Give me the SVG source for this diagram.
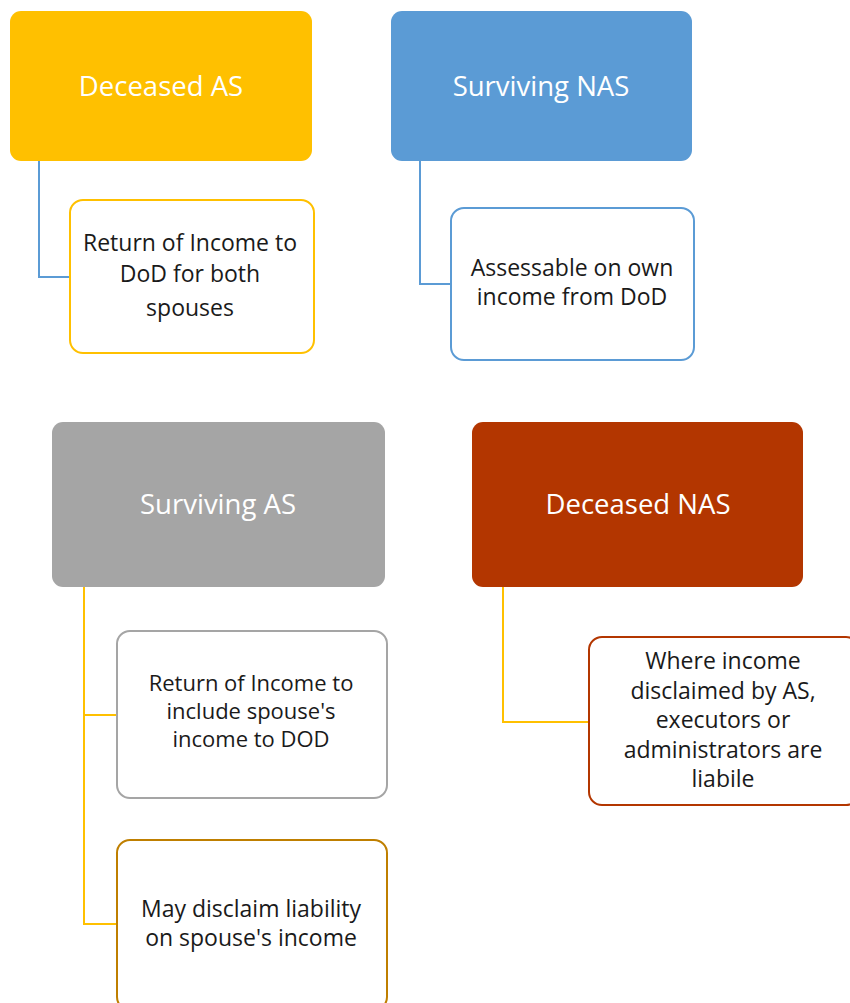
<svg xmlns="http://www.w3.org/2000/svg" width="850" height="1003" viewBox="0 0 850 1003">
<style>
.head text{font-family:"Open Sans","Liberation Sans",sans-serif;font-size:27.5px;fill:#fff;text-anchor:middle}
.child rect{fill:#fff;stroke-width:2}
.child text{font-family:"Open Sans","Liberation Sans",sans-serif;font-size:23px;fill:#1a1a1a;text-anchor:middle}
.child text.tight{font-size:22px}
.conn path{fill:none;stroke-width:2}
</style>
<rect width="850" height="1003" fill="#fff"/>
<g class="conn">
<path d="M39 161V277H70" stroke="#5B9BD5"/>
<path d="M420 161V284H451" stroke="#5B9BD5"/>
<path d="M84 587V924H117M84 715H117" stroke="#FFC000"/>
<path d="M503 587V722H589" stroke="#FFC000"/>
</g>
<g id="deceased-as" class="head"><rect x="10" y="11" width="302" height="150" rx="11" fill="#FFC000"/><text x="161" y="96">Deceased AS</text></g>
<g id="surviving-nas" class="head"><rect x="391" y="11" width="301" height="150" rx="11" fill="#5B9BD5"/><text x="541" y="96">Surviving NAS</text></g>
<g id="surviving-as" class="head"><rect x="52" y="422" width="333" height="165" rx="11" fill="#A5A5A5"/><text x="218" y="514">Surviving AS</text></g>
<g id="deceased-nas" class="head"><rect x="472" y="422" width="331" height="165" rx="11" fill="#B33600"/><text x="638" y="514">Deceased NAS</text></g>
<g id="return-both" class="child"><rect x="70" y="200" width="244" height="153" rx="13" stroke="#FFC000"/><text x="190" y="251">Return of Income to</text><text x="190" y="282">DoD for both</text><text x="190" y="316">spouses</text></g>
<g id="assessable" class="child"><rect x="451" y="208" width="243" height="152" rx="13" stroke="#5B9BD5"/><text x="572" y="276">Assessable on own</text><text x="572" y="305">income from DoD</text></g>
<g id="return-include" class="child"><rect x="117" y="631" width="270" height="167" rx="13" stroke="#A5A5A5"/><text class="tight" x="251" y="691">Return of Income to</text><text class="tight" x="251" y="719">include spouse's</text><text class="tight" x="251" y="747">income to DOD</text></g>
<g id="disclaim" class="child"><rect x="117" y="840" width="270" height="170" rx="13" stroke="#BF7F00"/><text x="251" y="917">May disclaim liability</text><text x="251" y="946">on spouse's income</text></g>
<g id="executors" class="child"><rect x="589" y="637" width="270" height="168" rx="13" stroke="#B33600"/><text x="723" y="669">Where income</text><text x="723" y="699">disclaimed by AS,</text><text x="723" y="728">executors or</text><text x="723" y="758">administrators are</text><text x="723" y="787">liabile</text></g>
</svg>
